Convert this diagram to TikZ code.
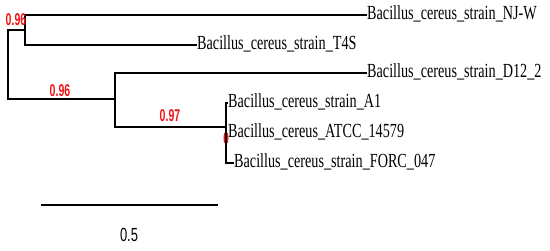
\documentclass[tikz,border=0pt]{standalone}
\usepackage{fontspec}
\usepackage{tikz}
\usetikzlibrary{shapes.geometric}
\newfontfamily\tipfont[FakeStretch=0.71]{Liberation Serif}
\newfontfamily\numfont[FakeStretch=0.62]{Liberation Sans}
\newfontfamily\barfont[FakeStretch=0.68]{Liberation Sans}
\definecolor{suppred}{RGB}{240,20,20}

\begin{document}
\begin{tikzpicture}[x=1pt, y=-1pt,
  branch/.style={line width=2.1pt, line cap=rect},
  tip/.style={anchor=west, inner sep=1pt, text height=10pt, text depth=2pt,
              font=\tipfont\fontsize{20}{20}\selectfont},
  support/.style={text=suppred, inner sep=0pt,
                  font=\numfont\bfseries\fontsize{17}{17}\selectfont},
  scalelab/.style={inner sep=0pt, font=\barfont\fontsize{19}{19}\selectfont}
]
  \useasboundingbox (0,0) rectangle (550,250);

  % internal nodes
  \coordinate (root) at (8,64);
  \coordinate (n1)   at (25,30);
  \coordinate (n2)   at (115,99);
  \coordinate (n3)   at (226,127);

  % tips
  \node[tip] (njw)  at (366,15)  {Bacillus\_cereus\_strain\_NJ-W};
  \node[tip] (t4s)  at (196,45)  {Bacillus\_cereus\_strain\_T4S};
  \node[tip] (d12)  at (366,73)  {Bacillus\_cereus\_strain\_D12\_2};
  \node[tip] (a1)   at (227,103) {Bacillus\_cereus\_strain\_A1};
  \node[tip] (atcc) at (227,133) {Bacillus\_cereus\_ATCC\_14579};
  \node[tip] (forc) at (233,163) {Bacillus\_cereus\_strain\_FORC\_047};

  \node[ellipse, fill=suppred, minimum width=5pt, minimum height=13pt,
        inner sep=0pt] (hl) at (226,138) {};

  % branches
  \draw[branch] (root) |- (n1);
  \draw[branch] (root) |- (n2);
  \draw[branch] (n1) |- (njw.west);
  \draw[branch] (n1) |- (t4s.west);
  \draw[branch] (n2) |- (d12.west);
  \draw[branch] (n2) |- (n3);
  \draw[branch] (n3) |- (a1.west);
  \draw[branch] (n3) |- (forc.west);

  % support values
  \node[support] (s1) at (16,20)  {0.96};
  \node[support] (s2) at (60,91)  {0.96};
  \node[support] (s3) at (170,116) {0.97};

  % scale bar
  \coordinate (sb0) at (42,205);
  \coordinate (sb1) at (217,205);
  \draw[branch] (sb0) -- (sb1);
  \node[scalelab] (sblab) at (129,235) {0.5};
\end{tikzpicture}
\end{document}
